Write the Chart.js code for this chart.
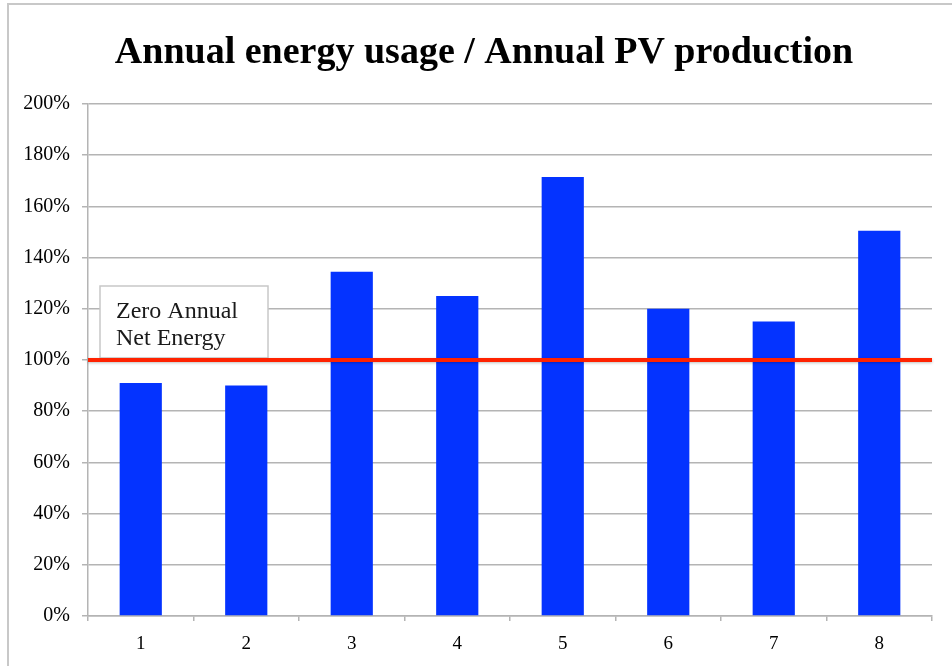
<!DOCTYPE html>
<html>
<head>
<meta charset="utf-8">
<script src="https://cdn.jsdelivr.net/npm/chart.js@4"></script>
<style>
  html, body { margin: 0; padding: 0; background: #fff; overflow: hidden; }
  #frame {
    position: absolute; left: 7px; top: 3px; width: 960px; height: 680px;
    border: 2px solid #c8c8c8; box-sizing: border-box;
  }
  #wrap { position: absolute; left: 0; top: 0; width: 952px; height: 666px; }
</style>
</head>
<body>
<div id="frame"></div>
<div id="wrap"><canvas id="chart" width="952" height="666"></canvas></div>
<script>
const categories = ['1', '2', '3', '4', '5', '6', '7', '8'];
const ratioValues = [91, 90, 134.5, 125, 171.5, 120, 115, 150.5];
const yTicks = [0, 20, 40, 60, 80, 100, 120, 140, 160, 180, 200];
const thresholdValue = 100;
const thresholdLabel = ['Zero Annual', 'Net Energy'];
const chartTitle = 'Annual energy usage / Annual PV production';

const serif = '"Liberation Serif", "Times New Roman", serif';

// title drawn by hand so it can sit a bit right of canvas centre like the original
const titlePlugin = {
  id: 'ownTitle',
  afterDraw(chart) {
    const { ctx } = chart;
    ctx.save();
    ctx.fillStyle = '#000';
    ctx.font = 'bold 38px ' + serif;
    ctx.textAlign = 'center';
    ctx.textBaseline = 'middle';
    ctx.fillText(chartTitle, 484, 53);
    ctx.restore();
  }
};

// red 100% line plus the label box sitting on it
const thresholdPlugin = {
  id: 'threshold',
  afterDatasetsDraw(chart) {
    const { ctx, chartArea, scales } = chart;
    const y = scales.y.getPixelForValue(thresholdValue);

    // label box
    const bx = chartArea.left + 12, bw = 168;
    const by = y - 74, bh = 72;
    ctx.save();
    ctx.fillStyle = '#fff';
    ctx.fillRect(bx, by, bw, bh);
    ctx.strokeStyle = '#c8c8c8';
    ctx.lineWidth = 1.5;
    ctx.strokeRect(bx, by, bw, bh);
    ctx.fillStyle = '#1a1a1a';
    ctx.font = '24px ' + serif;
    ctx.textBaseline = 'alphabetic';
    ctx.fillText(thresholdLabel[0], bx + 16, y - 42);
    ctx.fillText(thresholdLabel[1], bx + 16, y - 15);
    ctx.restore();

    // line
    ctx.save();
    ctx.shadowColor = 'rgba(0,0,0,0.25)';
    ctx.shadowBlur = 3;
    ctx.shadowOffsetY = 1;
    ctx.strokeStyle = '#ff2200';
    ctx.lineWidth = 4;
    ctx.beginPath();
    ctx.moveTo(chartArea.left, y);
    ctx.lineTo(chartArea.right, y);
    ctx.stroke();
    ctx.restore();
  }
};

new Chart(document.getElementById('chart'), {
  type: 'bar',
  data: {
    labels: categories,
    datasets: [{
      data: ratioValues,
      backgroundColor: '#0433ff',
      borderWidth: 0,
      barPercentage: 0.8,
      categoryPercentage: 0.5
    }]
  },
  options: {
    responsive: false,
    animation: false,
    layout: { padding: { left: 0, right: 20, top: 104, bottom: 0 } },
    plugins: {
      legend: { display: false },
      tooltip: { enabled: false },
      title: { display: false }
    },
    scales: {
      x: {
        grid: { drawOnChartArea: false, drawTicks: true, tickLength: 5, color: '#b4b4b4', lineWidth: 1.5, offset: true },
        border: { color: '#b4b4b4', width: 1.5 },
        ticks: { color: '#000', font: { family: serif, size: 19 }, padding: 12 },
        afterFit(s) { s.height = 50; }
      },
      y: {
        min: 0,
        max: 200,
        afterBuildTicks(s) { s.ticks = yTicks.map(v => ({ value: v })); },
        grid: { color: '#b4b4b4', lineWidth: 1.5, tickLength: 6 },
        border: { color: '#b4b4b4', width: 1.5 },
        ticks: {
          color: '#000',
          font: { family: serif, size: 20 },
          padding: 12,
          callback: v => v + '%'
        },
        afterFit(s) { s.width = 88; }
      }
    }
  },
  plugins: [thresholdPlugin, titlePlugin]
});
</script>
</body>
</html>
